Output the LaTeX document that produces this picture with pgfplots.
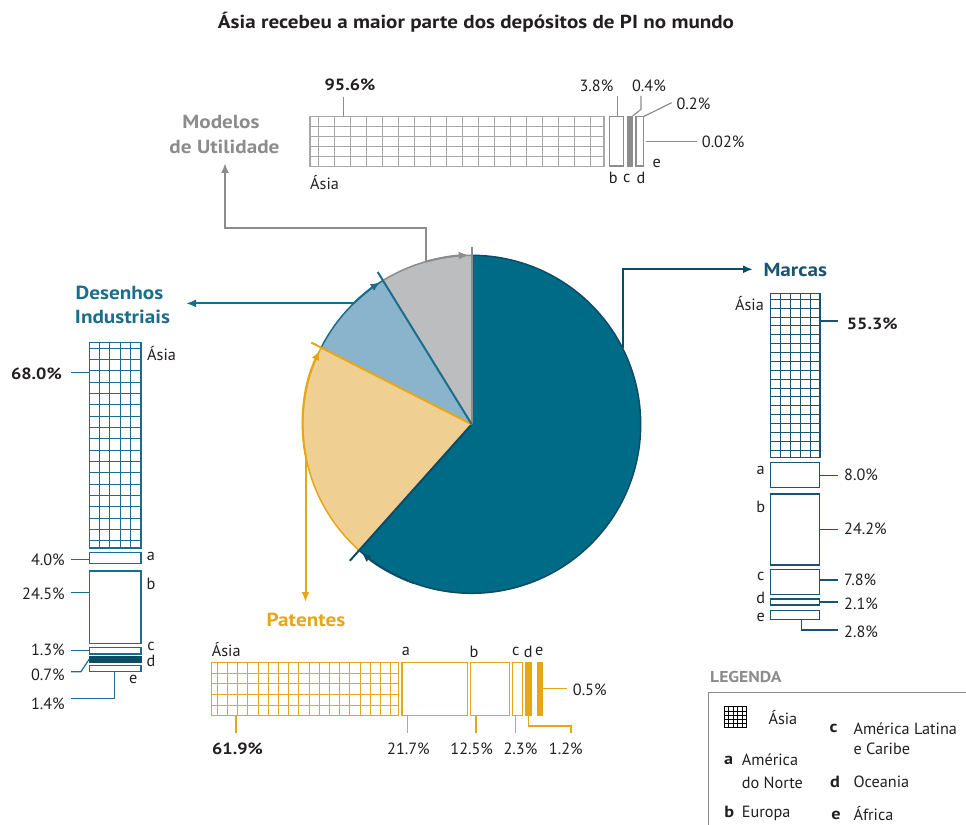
\documentclass[border=0pt]{standalone}
\usepackage{pgfplots}
\pgfplotsset{compat=1.18}
\usetikzlibrary{arrows.meta}
\usepackage{fontspec}
\setmainfont{PT Sans}[BoldFeatures={FakeStretch=1.12}]

\definecolor{txt}{HTML}{231F20}
\definecolor{mteal}{HTML}{1B5470}
\definecolor{pieDark}{HTML}{006B87}
\definecolor{pieDarkLine}{HTML}{0E4C66}
\definecolor{dteal}{HTML}{1A6E8B}
\definecolor{pieBlue}{HTML}{8AB4CB}
\definecolor{porange}{HTML}{E5A718}
\definecolor{pieOrange}{HTML}{F0CF92}
\definecolor{mgray}{HTML}{8C8C8C}
\definecolor{pieGray}{HTML}{BCBDBF}
\definecolor{lgray}{HTML}{A8A8A8}

% pie shares (%)
\def\shGray{8.8}   % Modelos de Utilidade
\def\shBlue{8.7}   % Desenhos Industriais
\def\shOrange{20.9}% Patentes
\def\shDark{61.6}  % Marcas
\pgfmathsetmacro\aA{90}
\pgfmathsetmacro\aB{\aA+3.6*\shGray}
\pgfmathsetmacro\aC{\aB+3.6*\shBlue}
\pgfmathsetmacro\aD{\aC+3.6*\shOrange}
\pgfmathsetmacro\aE{\aD+3.6*\shDark}

\newcommand{\rbar}[5]{\addplot[#5] coordinates {(#1,#2) (#3,#2) (#3,#4) (#1,#4)} --cycle;}

\tikzset{
  lbl/.style={font=\fontsize{16.3}{16.3}\selectfont, text=txt, inner sep=0pt, text height=11.4bp, text depth=0bp},
  blbl/.style={lbl, font=\bfseries\fontsize{16.3}{16.3}\selectfont},
  cat/.style={font=\bfseries\fontsize{19}{19}\selectfont, inner sep=0pt, text height=13.3bp, text depth=0bp},
  ld/.style={line width=1.2bp},
  ar/.style={line width=2bp, -{Latex[length=10bp,width=8bp]}},
}

\begin{document}
\begin{tikzpicture}
\begin{axis}[scale only axis, width=966bp, height=825bp,
  xmin=0, xmax=966, ymin=0, ymax=825, y dir=reverse,
  hide axis, clip=false, no markers]

% ---------------- title
\node[font=\bfseries\fontsize{18.9}{18.9}\selectfont, text=txt, inner sep=0pt, text height=13.2bp, text depth=0bp] at (axis cs:476,22) {Ásia recebeu a maior parte dos depósitos de PI no mundo};

% ---------------- pie
\def\cx{471.7}\def\cy{424.3}
\fill[pieGray] (axis cs:\cx,\cy) -- ++(\aA:169bp) arc[start angle=\aA, end angle=\aB, radius=169bp] -- cycle;
\fill[pieBlue] (axis cs:\cx,\cy) -- ++(\aB:169bp) arc[start angle=\aB, end angle=\aC, radius=169bp] -- cycle;
\fill[pieOrange] (axis cs:\cx,\cy) -- ++(\aC:169bp) arc[start angle=\aC, end angle=\aD, radius=169bp] -- cycle;
\fill[pieDark] (axis cs:\cx,\cy) -- ++(\aD:169bp) arc[start angle=\aD, end angle=\aE, radius=169bp] -- cycle;
\draw[mgray, line width=1.5bp] (axis cs:\cx,\cy) ++(\aA:169bp) arc[start angle=\aA, end angle=\aB, radius=169bp];
\draw[dteal, line width=1.5bp] (axis cs:\cx,\cy) ++(\aB:169bp) arc[start angle=\aB, end angle=\aC, radius=169bp];
\draw[porange, line width=1.5bp] (axis cs:\cx,\cy) ++(\aC:169bp) arc[start angle=\aC, end angle=\aD, radius=169bp];
\draw[pieDarkLine, line width=1.5bp] (axis cs:\cx,\cy) ++(\aD:169bp) arc[start angle=\aD, end angle=\aE, radius=169bp];
% radial lines
\draw[mgray, line width=2bp] (axis cs:\cx,\cy) -- ++(\aA:177bp);
\draw[pieDarkLine, line width=2bp] (axis cs:\cx,\cy) -- ++(\aD:183bp);
\draw[porange, line width=2bp] (axis cs:\cx,\cy) -- ++(\aC:180bp);
\draw[dteal, line width=2bp] (axis cs:\cx,\cy) -- ++(\aB:179bp);
% arrows along the rim
\draw[mgray, ar] (axis cs:\cx,\cy) ++(105.8:169bp) arc[start angle=105.8, end angle=\aA+1, radius=169bp];
\draw[dteal, ar] (axis cs:\cx,\cy) ++(134.4:169bp) arc[start angle=134.4, end angle=\aB+1, radius=169bp];
\draw[porange, ar] (axis cs:\cx,\cy) ++(191:169bp) arc[start angle=191, end angle=\aC+1, radius=169bp];
\draw[pieDarkLine, ar] (axis cs:\cx,\cy) ++(-110:169bp) arc[start angle=-110, end angle=\aD-360+1, radius=169bp];
% connectors
\draw[mgray, ar] (axis cs:425.7,261.7) -- (axis cs:425.7,228) -- (axis cs:225,228) -- (axis cs:225,163);
\draw[dteal, ar] (axis cs:353.5,303.4) -- (axis cs:186,303.4);
\draw[porange, ar] (axis cs:305.5,456.5) -- (axis cs:305.5,602);
\draw[pieDarkLine, ar] (axis cs:622.8,347.5) -- (axis cs:622.8,269.3) -- (axis cs:753,269.3);

% ---------------- Modelos de Utilidade
\node[cat, text=mgray] at (axis cs:221,122) {Modelos};
\node[cat, text=mgray] at (axis cs:224.5,147) {de Utilidade};
\rbar{310}{116.7}{604}{166.2}{draw=lgray, fill=white, line width=1.3bp}
\pgfplotsinvokeforeach{0,...,17}{\draw[lgray, line width=1bp] (axis cs:318+16*#1,116.7) -- (axis cs:318+16*#1,166.2);}
\pgfplotsinvokeforeach{1,...,4}{\draw[lgray, line width=1bp] (axis cs:310,116.7+9.9*#1) -- (axis cs:604,116.7+9.9*#1);}
\rbar{609.3}{116.7}{623.3}{166.2}{draw=mgray, fill=white, line width=1.5bp}
\rbar{627}{116.7}{632.7}{166.2}{draw=mgray, fill=mgray, line width=0.5bp}
\rbar{636.2}{116.7}{643.3}{166.2}{draw=mgray, fill=white, line width=1.5bp}
\draw[mgray, ld] (axis cs:343.3,96.7) -- (axis cs:343.3,116.7);
\draw[mgray, ld] (axis cs:617.7,96) -- (axis cs:617.7,116.7);
\draw[mgray, ld] (axis cs:641,96) -- (axis cs:641,109.3) -- (axis cs:632.7,116);
\draw[mgray, ld] (axis cs:671.7,102.7) -- (axis cs:643.3,116.7);
\draw[mgray, ld] (axis cs:645.7,141.3) -- (axis cs:696.7,141.3);
\node[blbl] at (axis cs:350,85) {95.6\%};
\node[lbl] at (axis cs:596.5,86) {3.8\%};
\node[lbl] at (axis cs:649,86) {0.4\%};
\node[lbl] at (axis cs:693.5,104) {0.2\%};
\node[lbl, anchor=west] at (axis cs:701.7,141.7) {0.02\%};
\node[lbl] at (axis cs:656.7,161.5) {e};
\node[lbl] at (axis cs:613.3,178.3) {b};
\node[lbl] at (axis cs:626.7,176.5) {c};
\node[lbl] at (axis cs:641,178.3) {d};
\node[lbl, anchor=west] at (axis cs:310,184) {Ásia};

% ---------------- Desenhos Industriais
\node[cat, text=dteal] at (axis cs:119.5,293.3) {Desenhos};
\node[cat, text=dteal] at (axis cs:122.5,316.7) {Industriais};
\rbar{89.3}{342.7}{141}{548}{draw=dteal, fill=white, line width=1.5bp}
\pgfplotsinvokeforeach{1,...,4}{\draw[dteal, line width=1bp] (axis cs:89.3+10.34*#1,342.7) -- (axis cs:89.3+10.34*#1,548);}
\pgfplotsinvokeforeach{0,...,17}{\draw[dteal, line width=1bp] (axis cs:89.3,348.3+11.32*#1) -- (axis cs:141,348.3+11.32*#1);}
\rbar{89.3}{552.3}{141}{563.3}{draw=dteal, fill=white, line width=1.5bp}
\rbar{89.3}{571}{141}{643.3}{draw=dteal, fill=white, line width=1.5bp}
\rbar{89.3}{647.7}{141}{654}{draw=dteal, fill=white, line width=1.5bp}
\rbar{89.3}{656.7}{141}{662}{draw=pieDarkLine, fill=pieDarkLine, line width=0.5bp}
\rbar{89.3}{665.7}{141}{671.7}{draw=dteal, fill=white, line width=1.5bp}
\draw[dteal, ld] (axis cs:71,372.3) -- (axis cs:89.3,372.3);
\draw[dteal, ld] (axis cs:71,559.3) -- (axis cs:89.3,559.3);
\draw[dteal, ld] (axis cs:71,592.7) -- (axis cs:89.3,592.7);
\draw[dteal, ld] (axis cs:71,650.8) -- (axis cs:89.3,650.8);
\draw[dteal, ld] (axis cs:71,671.7) -- (axis cs:81,671.7) -- (axis cs:89.3,659);
\draw[dteal, ld] (axis cs:71,698.3) -- (axis cs:114.3,698.3) -- (axis cs:114.3,671.7);
\node[blbl, anchor=east] at (axis cs:62,374) {68.0\%};
\node[lbl, anchor=west] at (axis cs:147,355) {Ásia};
\node[lbl, anchor=east] at (axis cs:65,560) {4.0\%};
\node[lbl, anchor=east] at (axis cs:65,593.3) {24.5\%};
\node[lbl, anchor=east] at (axis cs:65,649.3) {1.3\%};
\node[lbl, anchor=east] at (axis cs:65,675) {0.7\%};
\node[lbl, anchor=east] at (axis cs:65,703.3) {1.4\%};
\node[lbl] at (axis cs:151,555) {a};
\node[lbl] at (axis cs:151,584) {b};
\node[lbl] at (axis cs:151,645) {c};
\node[lbl] at (axis cs:151,661) {d};
\node[lbl] at (axis cs:133.3,678) {e};

% ---------------- Marcas
\node[cat, text=mteal, anchor=west] at (axis cs:763.3,270) {Marcas};
\rbar{770.7}{293.3}{820}{457.3}{draw=mteal, fill=white, line width=1.5bp}
\pgfplotsinvokeforeach{1,...,4}{\draw[mteal, line width=1bp] (axis cs:770.7+9.86*#1,293.3) -- (axis cs:770.7+9.86*#1,457.3);}
\pgfplotsinvokeforeach{0,...,17}{\draw[mteal, line width=1bp] (axis cs:770.7,299.3+8.87*#1) -- (axis cs:820,299.3+8.87*#1);}
\rbar{770.3}{462.3}{819.3}{487.7}{draw=mteal, fill=white, line width=1.5bp}
\rbar{770.3}{494}{819.3}{565}{draw=mteal, fill=white, line width=1.5bp}
\rbar{770.3}{569.3}{819.3}{594.3}{draw=mteal, fill=white, line width=1.5bp}
\rbar{770.3}{599}{819.3}{605}{draw=mteal, fill=white, line width=1.5bp}
\rbar{770.3}{610.7}{819.3}{619.3}{draw=mteal, fill=white, line width=1.5bp}
\draw[mteal, ld] (axis cs:820,321) -- (axis cs:838.3,321);
\draw[mteal, ld] (axis cs:819.3,475.7) -- (axis cs:838.3,475.7);
\draw[mteal, ld] (axis cs:819.3,529.3) -- (axis cs:838.3,529.3);
\draw[mteal, ld] (axis cs:819.3,580) -- (axis cs:838.3,580);
\draw[mteal, ld] (axis cs:819.3,602) -- (axis cs:838.3,602);
\draw[mteal, ld] (axis cs:801.7,619.3) -- (axis cs:801.7,630) -- (axis cs:838.3,630);
\node[lbl, anchor=east] at (axis cs:764,305) {Ásia};
\node[blbl, anchor=west] at (axis cs:846.7,324) {55.3\%};
\node[lbl, anchor=west] at (axis cs:844,475) {8.0\%};
\node[lbl, anchor=west] at (axis cs:844,528.3) {24.2\%};
\node[lbl, anchor=west] at (axis cs:844,580) {7.8\%};
\node[lbl, anchor=west] at (axis cs:844,603.3) {2.1\%};
\node[lbl, anchor=west] at (axis cs:844,631.7) {2.8\%};
\node[lbl] at (axis cs:760.7,469) {a};
\node[lbl] at (axis cs:760.7,506.7) {b};
\node[lbl] at (axis cs:760.7,575) {c};
\node[lbl] at (axis cs:760.7,597.8) {d};
\node[lbl] at (axis cs:760.7,616.2) {e};

% ---------------- Patentes
\node[cat, text=porange] at (axis cs:306,620) {Patentes};
\rbar{211.7}{662.7}{398.5}{715.7}{draw=porange, fill=white, line width=1.5bp}
\pgfplotsinvokeforeach{0,...,17}{\draw[porange, line width=1bp] (axis cs:217.3+10.2*#1,662.7) -- (axis cs:217.3+10.2*#1,715.7);}
\pgfplotsinvokeforeach{1,...,4}{\draw[porange, line width=1bp] (axis cs:211.7,662.7+10.6*#1) -- (axis cs:398.5,662.7+10.6*#1);}
\rbar{401.8}{662.7}{467.7}{715.7}{draw=porange, fill=white, line width=1.5bp}
\rbar{470.3}{662.7}{509.3}{715.7}{draw=porange, fill=white, line width=1.5bp}
\rbar{512.7}{662.7}{522.3}{715.7}{draw=porange, fill=white, line width=1.5bp}
\rbar{525.3}{662.7}{531.7}{715.7}{draw=porange, fill=porange, line width=0.5bp}
\rbar{537.3}{662.7}{542}{715.7}{draw=porange, fill=porange, line width=0.5bp}
\draw[porange, ld] (axis cs:236,715.7) -- (axis cs:236,733.3);
\draw[porange, ld] (axis cs:407.7,715.7) -- (axis cs:407.7,733.3);
\draw[porange, ld] (axis cs:476,715.7) -- (axis cs:476,733.3);
\draw[porange, ld] (axis cs:515.3,715.7) -- (axis cs:515.3,733.3);
\draw[porange, ld] (axis cs:528.7,715.7) -- (axis cs:528.7,726) -- (axis cs:571,726) -- (axis cs:571,733.3);
\draw[porange, ld] (axis cs:542.7,688.3) -- (axis cs:566.7,688.3);
\node[lbl, anchor=west] at (axis cs:211.7,651) {Ásia};
\node[lbl] at (axis cs:406,650) {a};
\node[lbl] at (axis cs:474,651.7) {b};
\node[lbl] at (axis cs:515.7,650) {c};
\node[lbl] at (axis cs:528.3,651.7) {d};
\node[lbl] at (axis cs:539.3,650) {e};
\node[lbl, anchor=west] at (axis cs:572.7,689.3) {0.5\%};
\node[blbl] at (axis cs:237.5,748.3) {61.9\%};
\node[lbl] at (axis cs:408.5,748.3) {21.7\%};
\node[lbl] at (axis cs:471.7,748.3) {12.5\%};
\node[lbl] at (axis cs:520.5,748.3) {2.3\%};
\node[lbl] at (axis cs:565.8,748.3) {1.2\%};

% ---------------- legend
\node[font=\bfseries\fontsize{15.8}{15.8}\selectfont, text=mgray, inner sep=0pt, text height=11bp, text depth=0bp, anchor=west] at (axis cs:710,676.7) {LEGENDA};
\draw[mgray, line width=1.2bp] (axis cs:708.3,825) -- (axis cs:708.3,692.3) -- (axis cs:966,692.3);
\rbar{724}{706.7}{746.7}{727.7}{draw=black, fill=white, line width=0.9bp}
\pgfplotsinvokeforeach{1,...,4}{\draw[black, line width=0.7bp] (axis cs:724+4.54*#1,706.7) -- (axis cs:724+4.54*#1,727.7);}
\pgfplotsinvokeforeach{1,...,4}{\draw[black, line width=0.7bp] (axis cs:724,706.7+4.2*#1) -- (axis cs:746.7,706.7+4.2*#1);}
\node[lbl, anchor=west] at (axis cs:768.3,719) {Ásia};
\node[blbl] at (axis cs:728.5,758.5) {a};
\node[lbl, anchor=west] at (axis cs:741.7,759.3) {América};
\node[lbl, anchor=west] at (axis cs:741.7,782.7) {do Norte};
\node[blbl] at (axis cs:729.3,811.7) {b};
\node[lbl, anchor=west] at (axis cs:741.7,811.7) {Europa};
\node[blbl] at (axis cs:833.5,727) {c};
\node[lbl, anchor=west] at (axis cs:853.3,728.3) {América Latina};
\node[lbl, anchor=west] at (axis cs:853.3,748.3) {e Caribe};
\node[blbl] at (axis cs:835,781.7) {d};
\node[lbl, anchor=west] at (axis cs:853.3,781.7) {Oceania};
\node[blbl] at (axis cs:836,813.5) {e};
\node[lbl, anchor=west] at (axis cs:853.3,815) {África};
\end{axis}
\pgfresetboundingbox
\path (current axis.south west) rectangle (current axis.north east);
\end{tikzpicture}
\end{document}
